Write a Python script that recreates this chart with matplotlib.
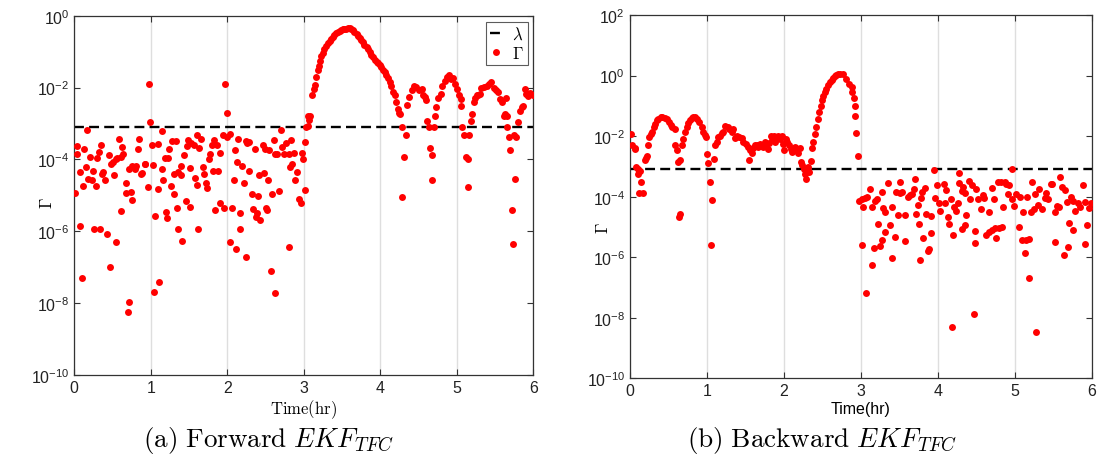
import numpy as np
import matplotlib
matplotlib.use('Agg')
import matplotlib.pyplot as plt

plt.rcParams['font.family'] = ['Liberation Sans', 'DejaVu Sans']
plt.rcParams['mathtext.fontset'] = 'cm'

# threshold lambda (log10)
lam_log = -3.1

# forward EKF: (time hr, log10 Gamma)
fwd_noise = [
    (0.01, -4.94), (0.03, -3.63), (0.04, -3.84), (0.07, -4.35), (0.12, -4.74), (0.13, -3.72),
    (0.15, -4.21), (0.17, -3.19), (0.18, -4.54), (0.21, -3.92), (0.23, -4.58), (0.24, -4.31),
    (0.28, -4.75), (0.30, -3.96), (0.32, -3.80), (0.35, -3.59), (0.36, -4.40), (0.38, -4.35),
    (0.40, -4.58), (0.45, -3.87), (0.48, -4.12), (0.50, -4.07), (0.52, -4.43), (0.54, -4.00),
    (0.56, -3.96), (0.59, -3.43), (0.61, -3.94), (0.62, -3.66), (0.64, -3.85), (0.67, -4.65),
    (0.67, -4.93), (0.72, -4.28), (0.74, -4.91), (0.76, -4.17), (0.80, -4.26), (0.81, -4.17),
    (0.83, -3.72), (0.85, -3.44), (0.87, -4.40), (0.89, -4.37), (0.92, -4.12), (0.93, -4.14),
    (0.96, -4.77), (0.97, -1.90), (0.99, -2.96), (1.01, -3.61), (1.03, -4.15), (1.09, -4.83),
    (1.10, -3.56), (1.14, -3.22), (1.15, -4.26), (1.16, -4.58), (1.19, -3.96), (1.22, -3.96),
    (1.24, -3.70), (1.26, -4.74), (1.28, -3.50), (1.30, -4.40), (1.33, -3.50), (1.36, -4.35),
    (1.39, -4.17), (1.40, -4.44), (1.43, -3.89), (1.47, -3.63), (1.49, -3.47), (1.51, -4.24),
    (1.53, -3.54), (1.56, -3.59), (1.58, -4.52), (1.60, -4.70), (1.61, -3.31), (1.63, -3.69),
    (1.65, -3.44), (1.68, -4.21), (1.70, -4.40), (1.72, -4.65), (1.74, -4.80), (1.76, -3.98),
    (1.78, -3.84), (1.80, -3.61), (1.81, -4.31), (1.83, -3.47), (1.86, -3.61), (1.88, -4.33),
    (1.90, -3.82), (1.94, -3.33), (1.97, -1.90), (1.99, -2.70), (2.00, -3.38), (2.03, -3.29),
    (2.09, -4.58), (2.10, -3.75), (2.13, -4.07), (2.14, -3.43), (2.19, -4.17), (2.22, -4.66),
    (2.24, -3.50), (2.26, -3.54), (2.28, -3.52), (2.29, -4.31), (2.32, -4.95), (2.36, -3.72),
    (2.41, -4.44), (2.46, -3.61), (2.48, -4.37), (2.49, -3.72), (2.53, -4.58), (2.55, -3.75),
    (2.61, -3.47), (2.62, -3.84), (2.65, -3.84), (2.67, -4.89), (2.70, -3.17), (2.72, -3.66),
    (2.74, -3.84), (2.77, -3.55), (2.80, -3.84), (2.82, -4.21), (2.83, -3.47), (2.85, -4.12),
    (2.87, -3.82), (2.89, -4.58), (2.91, -4.35), (2.97, -3.81), (2.99, -3.98), (3.01, -4.86),
]
fwd_noise_low = [
    (0.07, -5.86), (0.10, -7.31), (0.26, -5.94), (0.33, -5.93), (0.43, -6.08), (0.47, -6.99),
    (0.54, -6.30), (0.61, -5.44), (0.70, -8.24), (0.72, -7.98), (0.76, -5.14), (1.06, -5.58),
    (1.04, -7.69), (1.11, -7.41), (1.20, -5.46), (1.21, -5.63), (1.30, -4.97), (1.34, -5.34),
    (1.36, -5.93), (1.41, -6.28), (1.46, -5.16), (1.51, -5.32), (1.62, -5.93), (1.84, -5.40),
    (1.91, -5.21), (1.96, -5.35), (2.04, -6.30), (2.06, -5.34), (2.11, -6.48), (2.17, -5.48),
    (2.17, -5.95), (2.24, -6.71), (2.34, -5.37), (2.38, -5.60), (2.39, -5.49), (2.40, -5.01),
    (2.43, -5.69), (2.51, -5.35), (2.52, -5.40), (2.59, -4.95), (2.57, -7.10), (2.62, -7.73),
    (2.80, -6.45), (2.94, -5.11), (2.96, -5.21),
]
fwd_curve = [
    (3.02, -3.52), (3.03, -3.10), (3.05, -3.08), (3.05, -2.78), (3.07, -2.89), (3.08, -2.78),
    (3.11, -2.22), (3.13, -2.04), (3.14, -1.93), (3.16, -1.71), (3.18, -1.50), (3.20, -1.39),
    (3.21, -1.25), (3.23, -1.13), (3.25, -1.04), (3.27, -0.94), (3.29, -0.85), (3.31, -0.77),
    (3.34, -0.70), (3.36, -0.65), (3.38, -0.59), (3.40, -0.54), (3.42, -0.49), (3.45, -0.45),
    (3.47, -0.42), (3.49, -0.39), (3.51, -0.37), (3.53, -0.37), (3.55, -0.36), (3.58, -0.35),
    (3.60, -0.35), (3.62, -0.37), (3.64, -0.40), (3.66, -0.44), (3.69, -0.50), (3.71, -0.57),
    (3.73, -0.63), (3.75, -0.69), (3.77, -0.74), (3.79, -0.81), (3.82, -0.87), (3.84, -0.94),
    (3.86, -1.02), (3.88, -1.08), (3.90, -1.16), (3.93, -1.22), (3.95, -1.28), (3.97, -1.31),
    (3.99, -1.37), (4.01, -1.44), (4.03, -1.50), (4.06, -1.56), (4.08, -1.65), (4.10, -1.74),
    (4.12, -1.85), (4.14, -1.96), (4.17, -2.11), (4.19, -2.22), (4.21, -2.39), (4.23, -2.59),
    (4.24, -2.70), (4.26, -2.73), (4.28, -3.10), (4.31, -3.94), (4.28, -5.05), (4.33, -3.31),
    (4.35, -2.48), (4.38, -2.27), (4.41, -2.08), (4.44, -1.96), (4.47, -1.99), (4.51, -2.06),
    (4.54, -2.04), (4.56, -2.20), (4.58, -2.27), (4.60, -2.36), (4.61, -2.94), (4.64, -3.10),
    (4.65, -3.68), (4.68, -3.89), (4.67, -4.56), (4.70, -3.10), (4.71, -2.80), (4.73, -2.55),
    (4.76, -2.30), (4.79, -2.18), (4.81, -1.96), (4.84, -1.83), (4.87, -1.71), (4.90, -1.65),
    (4.92, -1.76), (4.95, -1.74), (4.97, -1.90), (5.00, -2.04), (5.03, -2.20), (5.05, -2.31),
    (5.06, -2.50), (5.07, -3.10), (5.09, -3.33), (5.12, -3.94), (5.14, -4.00), (5.14, -4.77),
    (5.16, -3.33), (5.18, -2.92), (5.20, -2.73), (5.22, -2.39), (5.24, -2.30), (5.26, -2.22),
    (5.28, -2.20), (5.30, -2.18), (5.32, -2.02), (5.35, -1.99), (5.39, -1.96), (5.42, -1.90),
    (5.45, -1.85), (5.48, -2.02), (5.51, -2.06), (5.54, -2.13), (5.56, -2.33), (5.59, -2.39),
    (5.61, -2.80), (5.63, -2.73), (5.66, -2.78), (5.64, -2.30), (5.65, -3.10), (5.68, -3.38),
    (5.69, -3.75), (5.72, -5.40), (5.74, -6.36), (5.75, -3.31), (5.77, -3.38), (5.76, -4.54),
    (5.80, -2.96), (5.83, -2.64), (5.85, -2.55), (5.87, -2.50), (5.89, -2.04), (5.91, -2.18),
    (5.93, -2.24), (5.96, -2.15), (5.99, -2.22),
]

# backward EKF: (time hr, log10 Gamma)
bwd_curve = [
    (0.01, -1.92), (0.03, -2.31), (0.06, -2.40), (0.07, -2.44), (0.08, -3.02), (0.10, -3.08),
    (0.11, -3.25), (0.13, -3.14), (0.12, -3.87), (0.15, -3.52), (0.17, -3.87), (0.19, -2.80),
    (0.21, -2.73), (0.22, -2.66), (0.23, -2.31), (0.25, -2.03), (0.27, -1.92), (0.29, -1.85),
    (0.31, -1.70), (0.33, -1.59), (0.35, -1.48), (0.37, -1.43), (0.40, -1.38), (0.42, -1.37),
    (0.45, -1.40), (0.48, -1.45), (0.51, -1.54), (0.53, -1.63), (0.55, -1.70), (0.58, -1.76),
    (0.58, -2.31), (0.61, -2.47), (0.62, -2.84), (0.64, -4.66), (0.65, -4.58), (0.65, -2.80),
    (0.67, -2.31), (0.69, -2.09), (0.71, -1.87), (0.74, -1.70), (0.76, -1.57), (0.78, -1.48),
    (0.80, -1.40), (0.82, -1.37), (0.85, -1.37), (0.87, -1.43), (0.90, -1.52), (0.93, -1.70),
    (0.95, -1.87), (0.97, -1.96), (0.99, -2.03), (1.00, -2.58), (1.02, -2.88), (1.04, -3.50),
    (1.05, -5.61), (1.07, -4.10), (1.09, -2.75), (1.10, -2.31), (1.13, -2.18), (1.15, -2.03),
    (1.17, -1.98), (1.19, -1.90), (1.21, -1.85), (1.24, -1.68), (1.27, -1.70), (1.29, -1.76),
    (1.32, -1.85), (1.34, -1.76), (1.36, -2.07), (1.39, -2.00), (1.42, -2.03), (1.45, -2.07),
    (1.47, -2.18), (1.51, -2.25), (1.54, -2.36), (1.56, -2.47), (1.55, -2.80), (1.58, -2.55),
    (1.60, -2.40), (1.62, -2.29), (1.65, -2.31), (1.67, -2.36), (1.69, -2.25), (1.71, -2.31),
    (1.73, -2.36), (1.75, -2.20), (1.77, -2.33), (1.80, -2.44), (1.81, -2.22), (1.83, -1.98),
    (1.85, -2.07), (1.87, -2.00), (1.89, -2.18), (1.90, -2.07), (1.93, -2.00), (1.95, -2.09),
    (1.97, -1.98), (1.99, -2.25), (2.00, -2.47), (2.03, -2.09), (2.04, -2.20), (2.07, -2.31),
    (2.09, -2.42), (2.11, -2.51), (2.14, -2.36), (2.16, -2.47), (2.19, -2.55), (2.21, -2.40),
    (2.22, -2.84), (2.24, -2.97), (2.26, -3.08), (2.27, -3.25), (2.29, -3.43), (2.31, -3.02),
    (2.33, -3.19), (2.35, -2.83), (2.36, -2.40), (2.38, -2.20), (2.40, -1.92), (2.42, -1.70),
    (2.44, -1.43), (2.46, -1.21), (2.48, -0.99), (2.49, -0.82), (2.51, -0.66), (2.53, -0.55),
    (2.55, -0.44), (2.58, -0.30), (2.60, -0.21), (2.62, -0.14), (2.64, -0.08), (2.66, -0.03),
    (2.68, 0.03), (2.71, 0.06), (2.73, 0.04), (2.77, 0.05), (2.81, -0.10), (2.85, -0.27),
    (2.88, -0.38), (2.89, -0.55), (2.91, -0.74), (2.92, -1.02), (2.93, -1.32), (2.94, -1.89),
    (2.97, -2.66),
]
bwd_noise = [
    (2.98, -4.15), (3.01, -4.09), (3.03, -4.35), (3.05, -4.05), (3.08, -4.02), (3.12, -3.74),
    (3.14, -4.35), (3.18, -4.15), (3.21, -4.09), (3.27, -3.85), (3.29, -4.38), (3.31, -4.51),
    (3.36, -3.54), (3.41, -4.35), (3.46, -3.85), (3.48, -4.62), (3.51, -3.87), (3.51, -3.52),
    (3.53, -3.83), (3.58, -4.60), (3.61, -4.02), (3.64, -3.94), (3.66, -3.91), (3.69, -3.74),
    (3.70, -3.41), (3.72, -4.57), (3.74, -4.29), (3.78, -4.05), (3.80, -3.85), (3.83, -3.72),
    (3.85, -4.57), (3.91, -4.65), (3.95, -3.13), (3.97, -4.05), (3.99, -3.60), (4.01, -4.20),
    (4.03, -4.46), (4.08, -3.58), (4.10, -4.21), (4.11, -3.77), (4.13, -4.68), (4.17, -4.07),
    (4.21, -4.35), (4.24, -4.46), (4.26, -4.21), (4.28, -3.22), (4.27, -3.54), (4.31, -3.80),
    (4.33, -3.69), (4.35, -3.87), (4.37, -4.60), (4.40, -3.47), (4.42, -4.07), (4.44, -3.61),
    (4.50, -3.74), (4.52, -4.07), (4.56, -4.40), (4.59, -3.96), (4.60, -4.05), (4.67, -4.51),
    (4.70, -3.72), (4.73, -4.09), (4.78, -3.50), (4.82, -3.50), (4.85, -4.35), (4.87, -3.52),
    (4.89, -3.58), (4.91, -3.91), (4.93, -3.63), (4.96, -4.07), (4.97, -3.08), (4.99, -4.32),
    (5.02, -3.91), (5.07, -4.00), (5.11, -4.51), (5.16, -4.02), (5.21, -4.51), (5.23, -3.52),
    (5.25, -4.40), (5.27, -3.91), (5.30, -4.27), (5.32, -3.76), (5.36, -4.40), (5.39, -4.05),
    (5.41, -3.87), (5.43, -4.07), (5.47, -3.58), (5.48, -3.58), (5.52, -4.51), (5.55, -4.31),
    (5.58, -4.35), (5.59, -3.36), (5.62, -3.69), (5.65, -3.77), (5.68, -4.16), (5.73, -4.02),
    (5.76, -4.13), (5.79, -4.49), (5.82, -4.21), (5.85, -4.35), (5.89, -3.61), (5.92, -4.16),
    (5.96, -4.38), (5.99, -4.21),
]
bwd_noise_low = [
    (3.23, -4.90), (3.32, -5.17), (3.38, -4.93), (3.44, -5.34), (3.57, -5.45), (3.40, -6.03),
    (3.02, -5.59), (3.17, -5.68), (3.25, -5.63), (3.28, -5.42), (3.15, -6.27), (3.07, -7.19),
    (3.76, -4.90), (3.77, -6.08), (3.81, -5.37), (3.87, -5.81), (3.89, -5.73), (3.91, -5.19),
    (4.15, -4.90), (4.20, -5.26), (4.19, -8.29), (4.31, -5.06), (4.36, -4.95), (4.47, -7.89),
    (4.48, -5.54), (4.49, -5.12), (4.63, -5.25), (4.67, -5.16), (4.70, -5.11), (4.76, -5.38),
    (4.75, -5.05), (4.80, -5.03), (4.83, -5.01), (5.05, -5.01), (5.09, -5.44), (5.15, -5.44),
    (5.18, -5.41), (5.14, -5.86), (5.19, -6.69), (5.28, -8.46), (5.53, -5.50), (5.64, -5.94),
    (5.69, -5.65), (5.76, -5.10), (5.92, -5.58), (5.94, -4.95), (5.71, -4.86),
]

fwd = np.array(fwd_noise + fwd_noise_low + fwd_curve)
bwd = np.array(bwd_curve + bwd_noise + bwd_noise_low)

fig = plt.figure(figsize=(10.99, 4.6), dpi=100)
ax1 = fig.add_axes([0.0676, 0.1826, 0.4177, 0.7811])
ax2 = fig.add_axes([0.5732, 0.1754, 0.4201, 0.7898])

for ax, data, ytop in [(ax1, fwd, 0), (ax2, bwd, 2)]:
    ax.axhline(10**lam_log, color='black', ls=(0, (4.2, 2.2)), lw=1.7, zorder=2, label=r'$\lambda$')
    ax.plot(data[:, 0], 10**data[:, 1], 'o', color='#ff0000', ms=5, mec='none', zorder=3,
            label=r'$\Gamma$')
    ax.set_yscale('log')
    ax.set_xlim(0, 6)
    ax.set_ylim(1e-10, 10.0**ytop)
    ax.set_yticks([10.0**k for k in range(-10, ytop + 1, 2)])
    ax.yaxis.set_minor_locator(matplotlib.ticker.NullLocator())
    ax.set_xticks(range(7))
    ax.grid(axis='x', color='#dedede', lw=1)
    ax.tick_params(direction='in', top=True, right=True, length=4, labelsize=11.5,
                   color='#333333', labelcolor='#222222')
    for s in ax.spines.values():
        s.set_color('#333333')
        s.set_linewidth(0.9)

ax1.set_ylabel(r'$\Gamma$', fontsize=12)
ax2.set_ylabel(r'$\Gamma$', fontsize=12)
ax1.yaxis.set_label_coords(-0.041, 0.48)
ax2.yaxis.set_label_coords(-0.041, 0.416)
ax1.set_xlabel(r'$\mathrm{Time(hr)}$', fontsize=12, labelpad=2)
ax2.set_xlabel('Time(hr)', fontsize=11.5, labelpad=2)

leg = ax1.legend(loc='upper right', fontsize=12, handlelength=0.7, handletextpad=0.6,
                 borderpad=0.25, labelspacing=0.15, fancybox=False, edgecolor='#333333',
                 borderaxespad=0.35)
leg.get_frame().set_linewidth(0.8)

fig.text(269 / 1099, 0.042, r'$\mathrm{(a)\ Forward}\ EKF_{TFC}$', ha='center', va='center',
         fontsize=19.5)
fig.text(822 / 1099, 0.042, r'$\mathrm{(b)\ Backward}\ EKF_{TFC}$', ha='center', va='center',
         fontsize=19.5)

fig.savefig('out.png', dpi=100)
